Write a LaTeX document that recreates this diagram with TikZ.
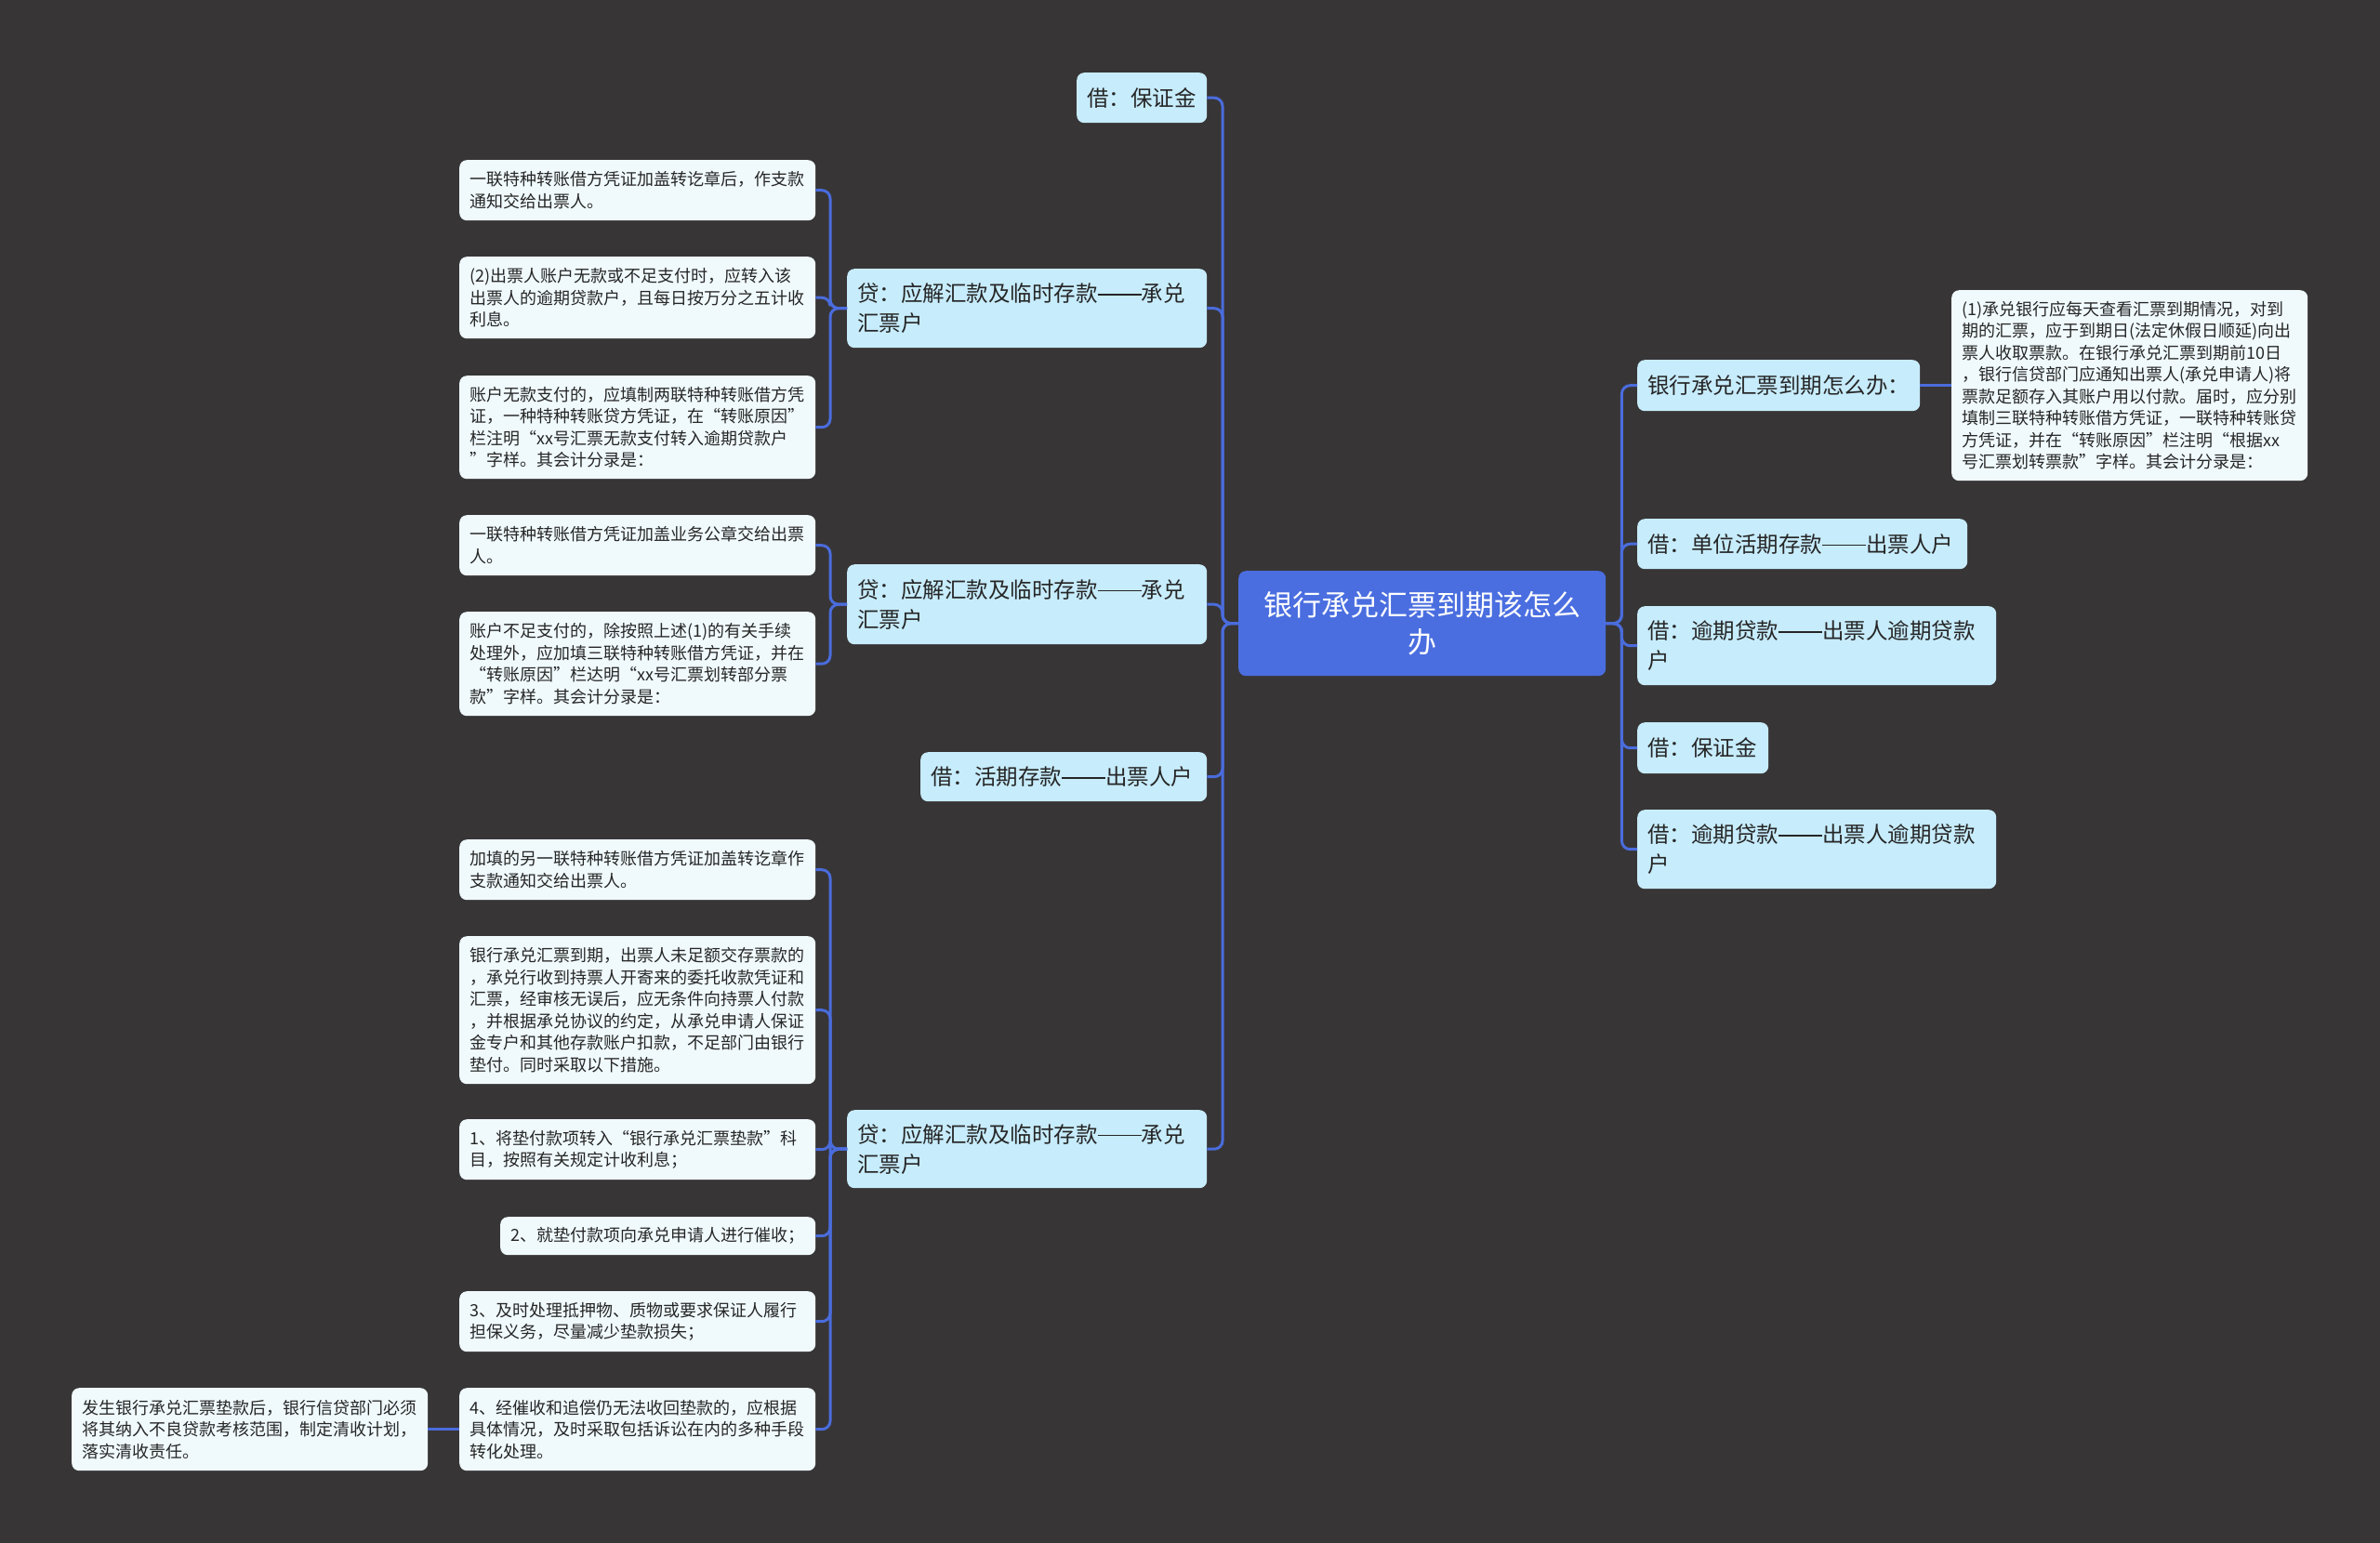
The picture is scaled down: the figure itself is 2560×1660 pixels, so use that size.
\documentclass[tikz,border=0pt]{standalone}
\usepackage{fontspec}
\newfontfamily\cjk{Noto Sans CJK SC}
\definecolor{bgc}{RGB}{55,53,54}
\definecolor{lvone}{RGB}{199,236,252}
\definecolor{leafc}{RGB}{240,250,253}
\definecolor{rootc}{RGB}{74,110,224}
\definecolor{linec}{RGB}{74,108,220}
\definecolor{txtc}{RGB}{38,38,38}
\newcommand\ldash{\rule[0.3em]{2em}{0.055em}}
\newcommand\mnode[7]{%
  \pgfmathsetmacro\mw{#5-#3}%
  \pgfmathsetmacro\mh{#6-#4}%
  \pgfmathsetmacro\tw{#5-#3-22}%
  \node[#2, anchor=north west, text width=\tw pt, minimum height=\mh pt] (#1) at (#3,#4) {#7};}
\begin{document}
\begin{tikzpicture}[x=1pt,y=-1pt,
  base/.style={rounded corners=8pt, inner xsep=11pt, inner ysep=0pt, text=txtc},
  rootbox/.style={base, fill=rootc, text=white, align=center, font={\cjk\fontsize{31}{40}\selectfont}},
  lvbox/.style={base, fill=lvone, align=left, font={\cjk\fontsize{23.5}{31.7}\selectfont}},
  leafbox/.style={base, fill=leafc, align=left, font={\cjk\fontsize{18}{23.5}\selectfont}},
  conn/.style={draw=linec, line width=3pt, rounded corners=9pt}]
\fill[bgc] (0,0) rectangle (2560,1660);
\useasboundingbox (0,0) rectangle (2560,1660);
% root
\mnode{root}{rootbox}{1332}{614}{1727}{727}{银行承兑汇票到期该怎么\\办}
% left level 1
\mnode{b1}{lvbox}{1158}{78}{1298}{132}{借：保证金}
\mnode{d1}{lvbox}{911}{289}{1298}{374}{贷：应解汇款及临时存款\ldash 承兑\\汇票户}
\mnode{d2}{lvbox}{911}{607}{1298}{693}{贷：应解汇款及临时存款\ldash 承兑\\汇票户}
\mnode{b2}{lvbox}{990}{809}{1298}{862}{借：活期存款\ldash 出票人户}
\mnode{d3}{lvbox}{911}{1194}{1298}{1278}{贷：应解汇款及临时存款\ldash 承兑\\汇票户}
% group 1 leaves
\mnode{la}{leafbox}{494}{172}{877}{237}{一联特种转账借方凭证加盖转讫章后，作支款\\通知交给出票人。}
\mnode{lb}{leafbox}{494}{276}{877}{364}{(2)出票人账户无款或不足支付时，应转入该\\出票人的逾期贷款户，且每日按万分之五计收\\利息。}
\mnode{lc}{leafbox}{494}{404}{877}{515}{账户无款支付的，应填制两联特种转账借方凭\\证，一种特种转账贷方凭证，在“转账原因”\\栏注明“xx号汇票无款支付转入逾期贷款户\\”字样。其会计分录是：}
% group 2 leaves
\mnode{ma}{leafbox}{494}{554}{877}{619}{一联特种转账借方凭证加盖业务公章交给出票\\人。}
\mnode{mb}{leafbox}{494}{658}{877}{770}{账户不足支付的，除按照上述(1)的有关手续\\处理外，应加填三联特种转账借方凭证，并在\\“转账原因”栏达明“xx号汇票划转部分票\\款”字样。其会计分录是：}
% group 3 leaves
\mnode{na}{leafbox}{494}{903}{877}{968}{加填的另一联特种转账借方凭证加盖转讫章作\\支款通知交给出票人。}
\mnode{nb}{leafbox}{494}{1007}{877}{1166}{银行承兑汇票到期，出票人未足额交存票款的\\，承兑行收到持票人开寄来的委托收款凭证和\\汇票，经审核无误后，应无条件向持票人付款\\，并根据承兑协议的约定，从承兑申请人保证\\金专户和其他存款账户扣款，不足部门由银行\\垫付。同时采取以下措施。}
\mnode{nc}{leafbox}{494}{1204}{877}{1269}{1、将垫付款项转入“银行承兑汇票垫款”科\\目，按照有关规定计收利息；}
\mnode{nd}{leafbox}{538}{1309}{877}{1350}{2、就垫付款项向承兑申请人进行催收；}
\mnode{ne}{leafbox}{494}{1389}{877}{1454}{3、及时处理抵押物、质物或要求保证人履行\\担保义务，尽量减少垫款损失；}
\mnode{nf}{leafbox}{494}{1493}{877}{1582}{4、经催收和追偿仍无法收回垫款的，应根据\\具体情况，及时采取包括诉讼在内的多种手段\\转化处理。}
\mnode{ng}{leafbox}{77}{1493}{460}{1582}{发生银行承兑汇票垫款后，银行信贷部门必须\\将其纳入不良贷款考核范围，制定清收计划，\\落实清收责任。}
% right side
\mnode{r1}{lvbox}{1761}{387}{2065}{442}{银行承兑汇票到期怎么办：}
\mnode{r2}{lvbox}{1761}{558}{2116}{612}{借：单位活期存款\ldash 出票人户}
\mnode{r3}{lvbox}{1761}{652}{2147}{737}{借：逾期贷款\ldash 出票人逾期贷款\\户}
\mnode{r4}{lvbox}{1761}{777}{1902}{832}{借：保证金}
\mnode{r5}{lvbox}{1761}{871}{2147}{956}{借：逾期贷款\ldash 出票人逾期贷款\\户}
\mnode{r1a}{leafbox}{2099}{312}{2482}{517}{(1)承兑银行应每天查看汇票到期情况，对到\\期的汇票，应于到期日(法定休假日顺延)向出\\票人收取票款。在银行承兑汇票到期前10日\\，银行信贷部门应通知出票人(承兑申请人)将\\票款足额存入其账户用以付款。届时，应分别\\填制三联特种转账借方凭证，一联特种转账贷\\方凭证，并在“转账原因”栏注明“根据xx\\号汇票划转票款”字样。其会计分录是：}
% connectors
\foreach \c in {b1,d1,d2,b2,d3} \draw[conn] (root.west) -- ++(-17,0) |- (\c.east);
\foreach \c in {r1,r2,r3,r4,r5} \draw[conn] (root.east) -- ++(17,0) |- (\c.west);
\foreach \c in {la,lb,lc} \draw[conn] (d1.west) -- ++(-18,0) |- (\c.east);
\foreach \c in {ma,mb} \draw[conn] (d2.west) -- ++(-18,0) |- (\c.east);
\foreach \c in {na,nb,nc,nd,ne,nf} \draw[conn] (d3.west) -- ++(-18,0) |- (\c.east);
\draw[conn] (nf.west) -- (ng.east);
\draw[conn] (r1.east) -- (r1a.west |- r1.east);
\end{tikzpicture}
\end{document}
